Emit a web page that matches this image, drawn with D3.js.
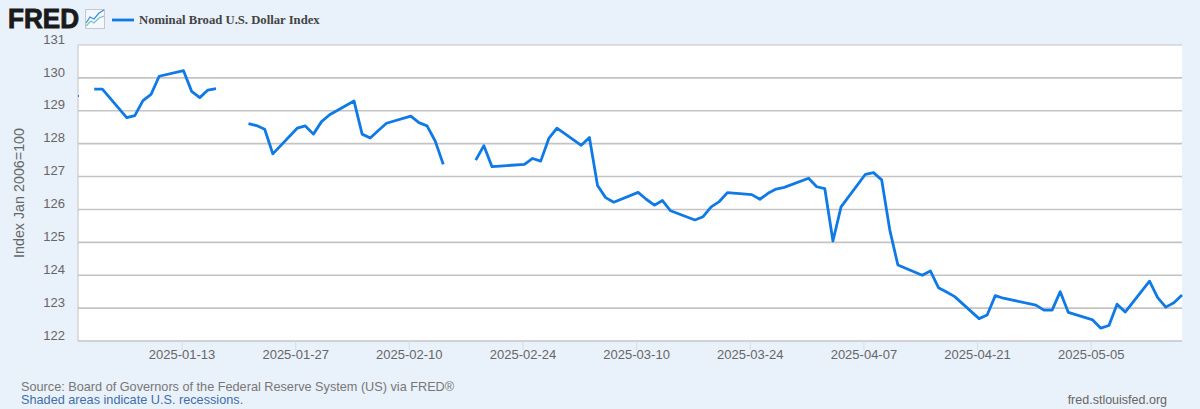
<!DOCTYPE html>
<html><head><meta charset="utf-8">
<script src="https://cdn.jsdelivr.net/npm/d3@7/dist/d3.min.js"></script>
<style>html,body{margin:0;padding:0;background:#e9f1fa;overflow:hidden}svg{display:block}</style>
</head><body><svg id="c" width="1200" height="409"></svg>
<script>
const seriesName = "Nominal Broad U.S. Dollar Index";
const yTitle = "Index Jan 2006=100";
const yTicks = [122,123,124,125,126,127,128,129,130,131];
const xTicks = ["2025-01-13","2025-01-27","2025-02-10","2025-02-24","2025-03-10","2025-03-24","2025-04-07","2025-04-21","2025-05-05"];
const dates = ["2024-12-31","2025-01-01","2025-01-02","2025-01-03","2025-01-06","2025-01-07","2025-01-08","2025-01-09","2025-01-10",
"2025-01-13","2025-01-14","2025-01-15","2025-01-16","2025-01-17","2025-01-20","2025-01-21","2025-01-22","2025-01-23","2025-01-24",
"2025-01-27","2025-01-28","2025-01-29","2025-01-30","2025-01-31","2025-02-03","2025-02-04","2025-02-05","2025-02-06","2025-02-07",
"2025-02-10","2025-02-11","2025-02-12","2025-02-13","2025-02-14","2025-02-17","2025-02-18","2025-02-19","2025-02-20","2025-02-21",
"2025-02-24","2025-02-25","2025-02-26","2025-02-27","2025-02-28","2025-03-03","2025-03-04","2025-03-05","2025-03-06","2025-03-07",
"2025-03-10","2025-03-11","2025-03-12","2025-03-13","2025-03-14","2025-03-17","2025-03-18","2025-03-19","2025-03-20","2025-03-21",
"2025-03-24","2025-03-25","2025-03-26","2025-03-27","2025-03-28","2025-03-31","2025-04-01","2025-04-02","2025-04-03","2025-04-04",
"2025-04-07","2025-04-08","2025-04-09","2025-04-10","2025-04-11","2025-04-14","2025-04-15","2025-04-16","2025-04-17","2025-04-18",
"2025-04-21","2025-04-22","2025-04-23","2025-04-24","2025-04-25","2025-04-28","2025-04-29","2025-04-30","2025-05-01","2025-05-02",
"2025-05-05","2025-05-06","2025-05-07","2025-05-08","2025-05-09","2025-05-12","2025-05-13","2025-05-14","2025-05-15","2025-05-16"];
const values = [129.45,null,129.66,129.66,128.79,128.85,129.31,129.50,130.05,
130.22,129.59,129.40,129.63,129.67,null,128.61,128.55,128.44,127.69,
128.47,128.54,128.29,128.67,128.88,129.30,128.29,128.17,128.40,128.62,
128.84,128.64,128.54,128.08,127.37,null,127.50,127.94,127.30,127.32,
127.37,127.55,127.47,128.16,128.47,127.95,128.19,126.73,126.36,126.22,
126.52,126.31,126.13,126.27,125.96,125.68,125.78,126.08,126.24,126.51,
126.45,126.31,126.49,126.62,126.67,126.95,126.69,126.63,125.04,126.08,
127.07,127.12,126.90,125.38,124.31,124.00,124.13,123.62,123.49,123.35,
122.68,122.79,123.38,123.30,123.25,123.09,122.94,122.94,123.50,122.87,
122.64,122.39,122.47,123.12,122.88,123.82,123.32,123.03,123.16,123.40];

const parse = d3.utcParse("%Y-%m-%d");
const fmt = d3.utcFormat("%Y-%m-%d");
const M = {l:78, r:1182, t:45, b:341};
const lineColor = "#0f7ae5", gridColor = "#c4c4c4", textColor = "#666";
const font = "'Liberation Sans', Arial, sans-serif";

const svg = d3.select("#c");
svg.append("rect").attr("width",1200).attr("height",409).attr("fill","#e9f1fa");

const x = d3.scaleUtc().domain([parse(dates[0]), parse(dates[dates.length-1])]).range([M.l,M.r]);
const y = d3.scaleLinear().domain([122,131]).range([M.b,M.t]);

svg.append("rect").attr("x",M.l).attr("y",M.t).attr("width",M.r-M.l).attr("height",M.b-M.t).attr("fill","#fff");

// grid
svg.append("g").selectAll("line").data(yTicks).join("line")
  .attr("x1",M.l).attr("x2",M.r).attr("y1",d=>y(d)).attr("y2",d=>y(d))
  .attr("stroke",gridColor).attr("stroke-width",d=>(d===131?1:1.6));
svg.append("line").attr("x1",M.l).attr("x2",M.l).attr("y1",M.t).attr("y2",M.b).attr("stroke",gridColor).attr("stroke-width",1);

// y axis labels sit above their gridlines
const yAxis = d3.axisLeft(y).tickValues(yTicks).tickSize(0).tickPadding(13).tickFormat(d3.format("d"));
const yg = svg.append("g").attr("transform",`translate(${M.l},-6)`).call(yAxis);
yg.select(".domain").remove();
yg.selectAll("text").attr("font-family",font).attr("font-size",13).attr("fill",textColor);

// x axis
const xAxis = d3.axisBottom(x).tickValues(xTicks.map(parse)).tickSize(9).tickPadding(0).tickFormat(fmt);
const xg = svg.append("g").attr("transform",`translate(-2,${M.b})`).call(xAxis);
xg.select(".domain").remove();
xg.selectAll("line").attr("stroke","#d3deed");
xg.selectAll("text").attr("font-family",font).attr("font-size",13).attr("fill",textColor);

// line
const pts = dates.map((d,i)=>({d:parse(d),v:values[i]}));
const line = d3.line().defined(p=>p.v!==null).x(p=>x(p.d)).y(p=>y(p.v));
svg.append("path").datum(pts).attr("d",line).attr("fill","none").attr("stroke",lineColor)
  .attr("stroke-width",2.8).attr("stroke-linejoin","round");
// isolated first point
svg.append("rect").attr("x",M.l).attr("y",y(values[0])-1).attr("width",1).attr("height",2).attr("fill",lineColor);

// Header
svg.append("text").attr("x",8).attr("y",28).text("FRED").attr("font-family",font).attr("font-weight",700)
  .attr("font-size",27).attr("fill","#1a1a1a").attr("stroke","#1a1a1a").attr("stroke-width",0.9).attr("textLength",71).attr("lengthAdjust","spacingAndGlyphs");
const ic = svg.append("g");
ic.append("rect").attr("x",85.5).attr("y",9.5).attr("width",19).attr("height",19).attr("fill","#f4f8fc").attr("stroke","#c8c8c8");
ic.append("path").attr("d","M86 26L91 21L94 23L99 18L104 16").attr("fill","none").attr("stroke","#7cc4b8").attr("stroke-width",1.3);
ic.append("path").attr("d","M86 23L90 17L94 19L99 13L104 10").attr("fill","none").attr("stroke","#3d8fe0").attr("stroke-width",1.3);
svg.append("line").attr("x1",112).attr("x2",134).attr("y1",20).attr("y2",20).attr("stroke",lineColor).attr("stroke-width",2.8);
svg.append("text").attr("x",139).attr("y",24).text(seriesName).attr("font-family","'Liberation Serif', 'Times New Roman', serif")
  .attr("font-weight",700).attr("font-size",12.7).attr("fill","#444");

// y title
svg.append("text").attr("transform","translate(24,193) rotate(-90)").attr("text-anchor","middle").text(yTitle)
  .attr("font-family",font).attr("font-size",14.3).attr("fill",textColor);

// Footer
svg.append("text").attr("x",21).attr("y",391).text("Source: Board of Governors of the Federal Reserve System (US) via FRED®")
  .attr("font-family",font).attr("font-size",12.7).attr("fill","#777");
svg.append("text").attr("x",21).attr("y",404).text("Shaded areas indicate U.S. recessions.")
  .attr("font-family",font).attr("font-size",12.7).attr("fill","#3f6fae");
svg.append("text").attr("x",1167).attr("y",404).attr("text-anchor","end").text("fred.stlouisfed.org")
  .attr("font-family",font).attr("font-size",12.5).attr("fill","#666");
</script></body></html>
